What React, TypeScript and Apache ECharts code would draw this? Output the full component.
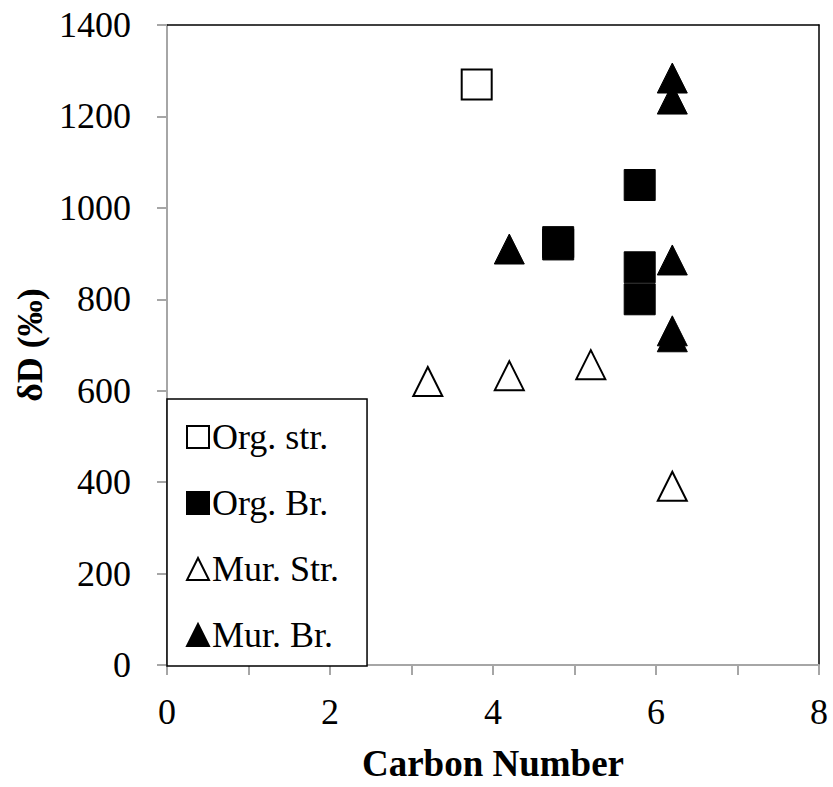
import React, { useEffect, useRef } from "react";
import * as echarts from "echarts";

const FONT = '"Liberation Serif", "Times New Roman", serif';

const seriesNames = ["Org. str.", "Org. Br.", "Mur. Str.", "Mur. Br."];

const orgStr: [number, number][] = [[3.8, 1270]];
const orgBr: [number, number][] = [
  [4.8, 925],
  [4.8, 920],
  [5.8, 1050],
  [5.8, 870],
  [5.8, 800],
];
const murStr: [number, number][] = [
  [3.2, 620],
  [4.2, 633],
  [5.2, 657],
  [6.2, 391],
];
const murBr: [number, number][] = [
  [4.2, 910],
  [6.2, 1284],
  [6.2, 1238],
  [6.2, 886],
  [6.2, 731],
  [6.2, 718],
];

const xTickLabels = ["0", "2", "4", "6", "8"];
const yTickLabels = ["0", "200", "400", "600", "800", "1000", "1200", "1400"];

export default function App() {
  const ref = useRef<HTMLDivElement>(null);
  useEffect(() => {
    if (!ref.current) return;
    const chart = echarts.init(ref.current, undefined, { renderer: "svg" });
    const gray = "#a6a6a6";
    chart.setOption({
      animation: false,
      backgroundColor: "#ffffff",
      grid: { left: 167, right: 14, top: 25, bottom: 121, containLabel: false },
      legend: {
        orient: "vertical",
        left: 167,
        top: 399,
        padding: [20, 28, 13, 19],
        itemGap: 30,
        itemWidth: 22,
        itemHeight: 22,
        backgroundColor: "#ffffff",
        borderColor: "#000000",
        borderWidth: 1.5,
        borderRadius: 0,
        textStyle: { fontFamily: FONT, fontSize: 36, color: "#000", padding: [0, 0, 0, -2] },
        data: seriesNames,
        z: 10,
      },
      xAxis: [
        {
          type: "value",
          min: 0,
          max: 8,
          interval: 1,
          name: "Carbon Number",
          nameLocation: "middle",
          nameGap: 80,
          nameTextStyle: { fontFamily: FONT, fontSize: 37, fontWeight: "bold", color: "#000" },
          axisLine: { show: true, onZero: false, lineStyle: { color: gray, width: 2 } },
          axisTick: { show: true, inside: false, length: 10, lineStyle: { color: gray, width: 2 } },
          axisLabel: {
            margin: 29,
            fontFamily: FONT,
            fontSize: 36,
            color: "#000",
            formatter: (v: number) => (xTickLabels.includes(String(v)) ? String(v) : ""),
          },
          splitLine: { show: false },
        },
        {
          type: "value",
          position: "top",
          min: 0,
          max: 8,
          axisLine: { show: true, onZero: false, lineStyle: { color: "#000", width: 1.5 } },
          axisTick: { show: false },
          axisLabel: { show: false },
          splitLine: { show: false },
        },
      ],
      yAxis: [
        {
          type: "value",
          min: 0,
          max: 1400,
          interval: 200,
          name: "δD (‰)",
          nameLocation: "middle",
          nameGap: 116,
          nameRotate: 90,
          nameTextStyle: { fontFamily: FONT, fontSize: 36, fontWeight: "bold", color: "#000" },
          axisLine: { show: true, onZero: false, lineStyle: { color: gray, width: 2 } },
          axisTick: { show: true, inside: false, length: 10, lineStyle: { color: gray, width: 2 } },
          axisLabel: {
            margin: 36,
            fontFamily: FONT,
            fontSize: 36,
            color: "#000",
            formatter: (v: number) => (yTickLabels.includes(String(v)) ? String(v) : ""),
          },
          splitLine: { show: false },
        },
        {
          type: "value",
          position: "right",
          min: 0,
          max: 1400,
          axisLine: { show: true, onZero: false, lineStyle: { color: "#000", width: 1.5 } },
          axisTick: { show: false },
          axisLabel: { show: false },
          splitLine: { show: false },
        },
      ],
      series: [
        {
          name: seriesNames[0],
          type: "scatter",
          data: orgStr,
          symbol: "rect",
          symbolSize: 30,
          itemStyle: { color: "#ffffff", borderColor: "#000", borderWidth: 2, opacity: 1 },
        },
        {
          name: seriesNames[1],
          type: "scatter",
          data: orgBr,
          symbol: "rect",
          symbolSize: 31,
          itemStyle: { color: "#000", borderColor: "#000", borderWidth: 1, opacity: 1 },
        },
        {
          name: seriesNames[2],
          type: "scatter",
          data: murStr,
          symbol: "triangle",
          symbolSize: 29,
          itemStyle: { color: "#ffffff", borderColor: "#000", borderWidth: 2, opacity: 1 },
        },
        {
          name: seriesNames[3],
          type: "scatter",
          data: murBr,
          symbol: "triangle",
          symbolSize: 30,
          itemStyle: { color: "#000", borderColor: "#000", borderWidth: 1, opacity: 1 },
        },
      ],
    });
    return () => chart.dispose();
  }, []);
  return <div ref={ref} style={{ width: 833, height: 787, position: "absolute", left: 0, top: 0 }} />;
}
